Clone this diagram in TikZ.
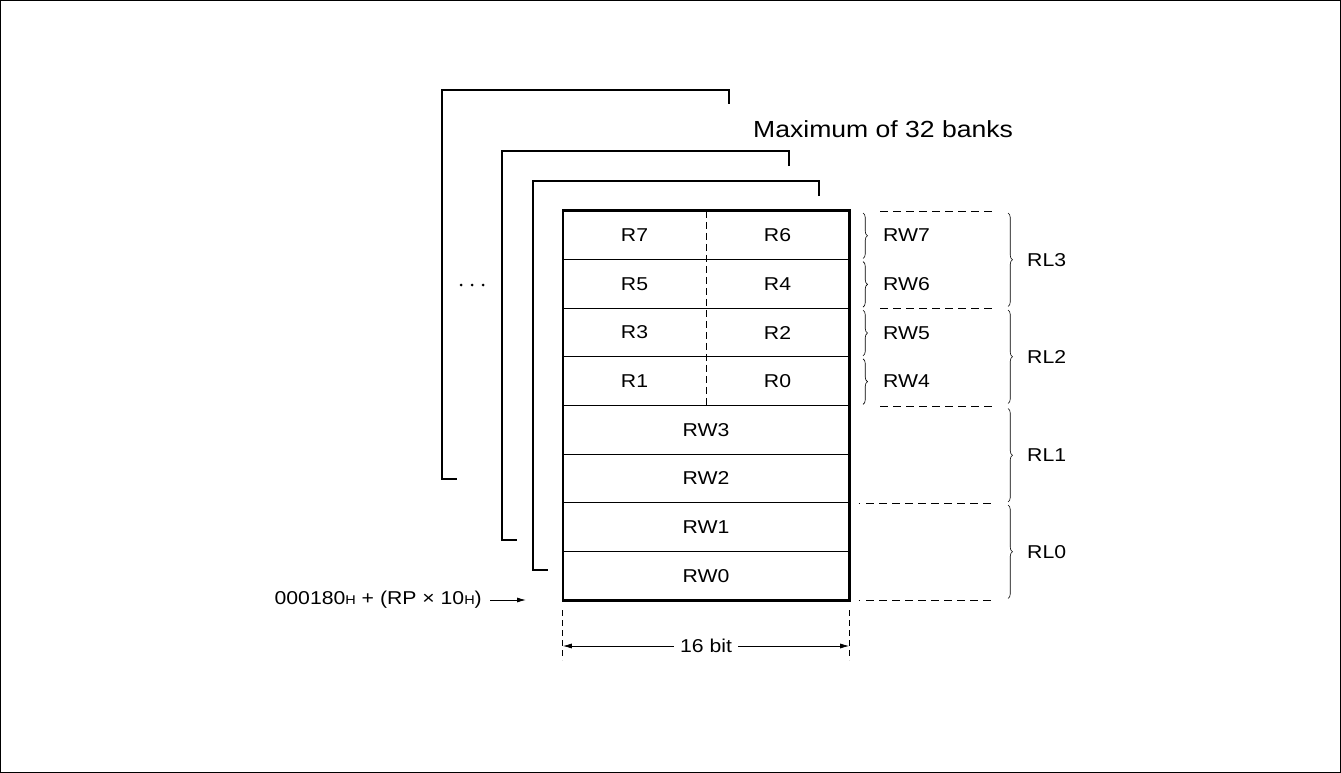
\documentclass[tikz,border=0pt]{standalone}
\usepackage{fontspec}
\setmainfont[FakeStretch=1.14]{Liberation Sans}
\usetikzlibrary{decorations.pathreplacing,arrows.meta}
\newcommand\labfont{\fontsize{18.6}{21}\selectfont}
\newcommand\subfont{\fontsize{12.7}{14}\selectfont}
\newcommand\bigfont{\fontsize{23.3}{26}\selectfont}
\begin{document}
\begin{tikzpicture}[x=1pt,y=-1pt,
  cellh/.style={minimum width=143pt,minimum height=48.625pt,inner sep=0pt,font=\labfont},
  cellf/.style={minimum width=286pt,minimum height=48.625pt,inner sep=0pt,font=\labfont},
  thin/.style={line width=0.8pt},
  thick/.style={line width=2.6pt},
  bank/.style={line width=2.6pt,line cap=butt},
  sbrace/.style={decorate,decoration={brace,amplitude=4.5pt},line width=0.6pt},
  lab/.style={font=\labfont,inner sep=0pt,anchor=west},
  dsh/.style={line width=0.8pt,dash pattern=on 8pt off 5pt}]
\useasboundingbox (0,0) rectangle (1341,773);
\draw[line width=1.2pt] (0.6,0.6) rectangle (1340.4,772.4);

% banks behind
\draw[bank] (729,104) -- (729,90) -- (442,90) -- (442,479) -- (457,479);
\draw[bank] (789,166) -- (789,151) -- (502,151) -- (502,540) -- (517,540);
\draw[bank] (819,196) -- (819,181) -- (533,181) -- (533,570) -- (548,570);
\node[font=\bigfont,anchor=west,inner sep=0pt] (max) at (753,129) {Maximum of 32 banks};
\foreach \x in {461,472,483} \fill (\x,285) circle (1.5pt);

% cells
\node[cellh] (r7) at (634.5,235.31) {R7};
\node[cellh] (r6) at (777.5,235.31) {R6};
\node[cellh] (r5) at (634.5,283.94) {R5};
\node[cellh] (r4) at (777.5,283.94) {R4};
\node[cellh] (r3) at (634.5,332.56) {R3};
\node[cellh] (r2) at (777.5,332.56) {R2};
\node[cellh] (r1) at (634.5,381.19) {R1};
\node[cellh] (r0) at (777.5,381.19) {R0};
\node[cellf] (rw3) at (706,429.81) {RW3};
\node[cellf] (rw2) at (706,478.44) {RW2};
\node[cellf] (rw1) at (706,527.06) {RW1};
\node[cellf] (rw0) at (706,575.69) {RW0};

\draw[thin] (r5.north west) -- (r4.north east);
\draw[thin] (r3.north west) -- (r2.north east);
\draw[thin] (r1.north west) -- (r0.north east);
\draw[thin] (rw3.north west) -- (rw3.north east);
\draw[thin] (rw2.north west) -- (rw2.north east);
\draw[thin] (rw1.north west) -- (rw1.north east);
\draw[thin] (rw0.north west) -- (rw0.north east);
\draw[thin,dash pattern=on 7pt off 4pt] (r7.north east) -- (r1.south east);
\draw[thick] (r7.north west) rectangle (rw0.south east);

% small braces and RW labels
\foreach \n/\yt in {7/213, 6/261.6, 5/310.3, 4/358.9}{
  \draw[sbrace] (863,\yt) -- ++(0,45.5);
  \node[lab] (rwl\n) at (883,\yt+22.5) {RW\n};
}
% dashed separators
\draw[dsh] (880,211) -- (995,211);
\draw[dsh] (880,308.25) -- (995,308.25);
\draw[dsh] (880,406.5) -- (995,406.5);
\draw[line width=0.8pt] (858.5,503.25) -- (859.5,503.25);
\draw[dsh] (866,503.25) -- (995,503.25);
\draw[line width=0.8pt] (858.5,600) -- (859.5,600);
\draw[dsh] (866,600) -- (995,600);

% large braces and RL labels
\foreach \n/\yt in {3/213, 2/310, 1/408.5, 0/505}{
  \draw[sbrace] (1008,\yt) -- ++(0,93.5);
  \node[lab] (rl\n) at (1027,\yt+46.7) {RL\n};
}

% 16 bit
\coordinate (d0t) at (rw0.south west |- 0,610);
\coordinate (d0b) at (rw0.south west |- 0,660);
\coordinate (d1t) at (rw0.south east |- 0,610);
\coordinate (d1b) at (rw0.south east |- 0,660);
\draw[thin,dash pattern=on 6pt off 4pt] (d0t) -- (d0b);
\draw[thin,dash pattern=on 6pt off 4pt] (d1t) -- (d1b);
\node[font=\labfont,inner sep=6pt] (bit) at (706,646) {16 bit};
\coordinate (a0) at (d0t |- bit);
\coordinate (a1) at (d1t |- bit);
\draw[thin,-{Latex[length=9pt,width=5pt]}] (bit.west) -- (a0);
\draw[thin,-{Latex[length=9pt,width=5pt]}] (bit.east) -- (a1);

% address
\node[font=\labfont,anchor=east,inner sep=0pt] (addr) at (482,600)
  {000180{\subfont H} + (RP × 10{\subfont H})};
\coordinate (addrend) at (526,600);
\draw[thin,-{Latex[length=9pt,width=5pt]}] ([xshift=8pt]addr.east) -- (addrend);
\end{tikzpicture}
\end{document}
